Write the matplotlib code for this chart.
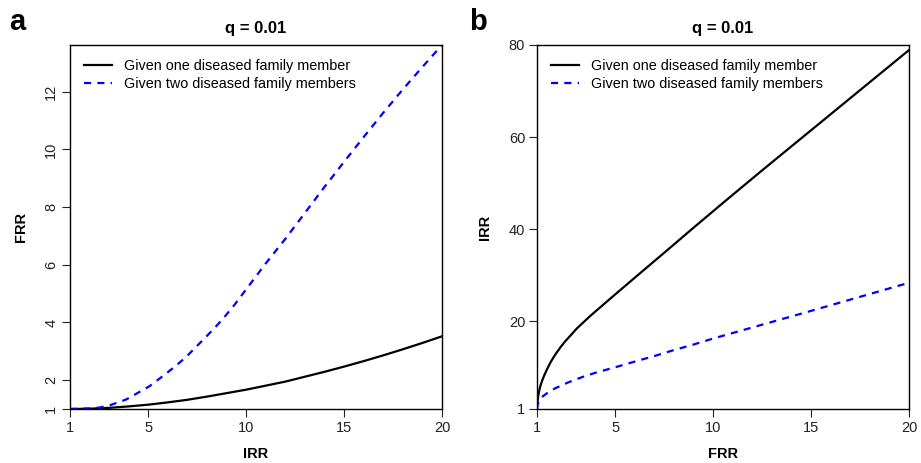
import numpy as np
import matplotlib
matplotlib.use("Agg")
import matplotlib.pyplot as plt

plt.rcParams['font.family'] = ['Liberation Sans', 'DejaVu Sans']

# panel a: FRR as a function of IRR
irr_one = [1, 2, 3, 4, 5, 6, 7, 8, 9, 10, 11, 12, 13, 14, 15, 16, 17, 18, 19, 20]
frr_one = [1.0, 1.01, 1.04, 1.09, 1.15, 1.23, 1.32, 1.43, 1.55, 1.67, 1.81, 1.95,
           2.12, 2.29, 2.47, 2.66, 2.86, 3.07, 3.29, 3.52]
irr_two = [1, 2, 2.5, 3, 3.87, 5.06, 5.74, 6.34, 6.94, 7.45, 7.96, 8.48, 8.9, 9.41,
           10, 11, 12, 13, 14, 15, 16, 17, 18, 19, 20]
frr_two = [1.0, 1.02, 1.05, 1.12, 1.33, 1.79, 2.14, 2.46, 2.81, 3.16, 3.51, 3.88, 4.2, 4.62,
           5.15, 6.05, 6.9, 7.8, 8.7, 9.57, 10.43, 11.27, 12.08, 12.86, 13.62]

# panel b: IRR as a function of FRR
frr_b_one = [1, 1.01, 1.03, 1.08, 1.15, 1.25, 1.37, 1.51, 1.7, 1.93, 2.2, 2.44, 2.7,
             3.04, 3.72, 4.40, 5.03, 6.3, 7.55, 8.9, 10.35, 12.5, 15, 17.5, 20]
irr_b_one = [1, 1.9, 2.8, 4.3, 5.7, 7.0, 8.3, 9.6, 11.2, 12.8, 14.4, 15.7, 16.9,
             18.5, 21.2, 23.7, 26.0, 30.6, 35.1, 40.0, 45.2, 52.8, 61.5, 70.2, 78.9]
frr_b_two = [1, 1.02, 1.1, 1.25, 1.5, 1.93, 2.61, 3.29, 3.97, 5.03, 6, 7, 8, 9, 10,
             12.5, 15, 17.5, 20]
irr_b_two = [1, 1.8, 2.7, 3.6, 4.4, 5.5, 6.8, 7.9, 8.85, 10.1, 11.3, 12.5, 13.8, 15.0,
             16.3, 19.3, 22.3, 25.35, 28.4]

labels = ["Given one diseased family member", "Given two diseased family members"]
xticks = [1, 5, 10, 15, 20]
yticks_a = [1, 2, 4, 6, 8, 10, 12]
yticks_b = [1, 20, 40, 60, 80]

fig = plt.figure(figsize=(9.21, 4.63), dpi=100)
ax1 = fig.add_axes([70 / 921, 54 / 463, 372 / 921, 364 / 463])
ax2 = fig.add_axes([537 / 921, 54 / 463, 372 / 921, 364 / 463])


def style(ax, xlab, ylab, yticks, rot):
    ax.set_xlim(1, 20)
    ax.set_xticks(xticks)
    ax.set_yticks(yticks)
    ax.tick_params(direction='out', length=5.5, width=0.8, labelsize=10.5, pad=3,
                   colors='#222222')
    if rot:
        for t in ax.get_yticklabels():
            t.set_rotation(90)
            t.set_va('center')
    ax.set_xlabel(xlab, fontsize=10.5, fontweight='bold', labelpad=9)
    ax.set_ylabel(ylab, fontsize=10.5, fontweight='bold', labelpad=12)
    ax.set_title("q = 0.01", fontsize=12, fontweight='bold', pad=9)
    for s in ax.spines.values():
        s.set_linewidth(1.0)
    ax.legend(loc='upper left', frameon=False, fontsize=10.4, handlelength=1.9,
              handletextpad=0.85, labelspacing=0.28, borderaxespad=0.6)


ax1.plot(irr_one, frr_one, color='black', lw=1.6, label=labels[0])
ax1.plot(irr_two, frr_two, color='blue', lw=1.6, dashes=(3.2, 2.8), label=labels[1])
ax1.set_ylim(1, 13.62)
style(ax1, "IRR", "FRR", yticks_a, True)

ax2.plot(frr_b_one, irr_b_one, color='black', lw=1.6, label=labels[0])
ax2.plot(frr_b_two, irr_b_two, color='blue', lw=1.6, dashes=(3.2, 2.8), label=labels[1])
ax2.set_ylim(1, 80)
style(ax2, "FRR", "IRR", yticks_b, False)

fig.text(9 / 921, 1 - 30 / 463, "a", fontsize=21, fontweight='bold', va='baseline')
fig.text(469 / 921, 1 - 30 / 463, "b", fontsize=21, fontweight='bold', va='baseline')

fig.savefig("out.png", dpi=100)
